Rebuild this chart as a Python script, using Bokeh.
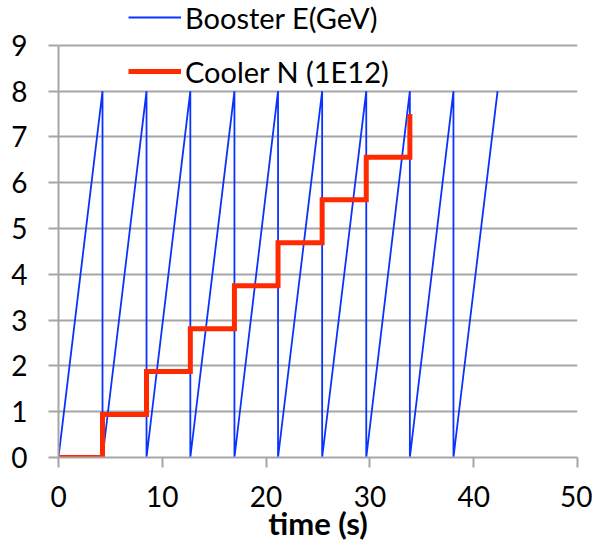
from bokeh.plotting import figure
from bokeh.models import Range1d, FixedTicker, Legend, LegendItem
from bokeh.embed import file_html
from bokeh.resources import INLINE

# data
booster_t = [0, 4.24, 4.24, 8.48, 8.48, 12.7, 12.7, 16.95, 16.95, 21.15, 21.15,
             25.4, 25.4, 29.65, 29.65, 33.85, 33.85, 38.05, 38.05, 42.3]
booster_e = [0, 8, 0, 8, 0, 8, 0, 8, 0, 8, 0, 8, 0, 8, 0, 8, 0, 8, 0, 8]
cooler_t = [0, 4.24, 4.24, 8.48, 8.48, 12.7, 12.7, 16.95, 16.95, 21.15, 21.15,
            25.4, 25.4, 29.65, 29.65, 33.85, 33.85]
cooler_n = [0, 0, 0.94, 0.94, 1.88, 1.88, 2.81, 2.81, 3.75, 3.75, 4.69, 4.69,
            5.63, 5.63, 6.56, 6.56, 7.5]
x_ticks = [0, 10, 20, 30, 40, 50]
y_ticks = [0, 1, 2, 3, 4, 5, 6, 7, 8, 9]
x_label = "time (s)"
booster_label = "Booster E(GeV)"
cooler_label = "Cooler N (1E12)"

FONT = "Lato"
GRID = "#A6A6A6"

# layout: plot area spans y pixels 0..458; the value axis (0..9) occupies 45..458,
# the space above 9 holds the legend (as in the original).
FRAME_H = 458
AXIS_H = 413
y_top = y_ticks[-1] * FRAME_H / AXIS_H

p = figure(width=592, height=544, output_backend="svg", toolbar_location=None,
           x_range=Range1d(x_ticks[0], x_ticks[-1]), y_range=Range1d(y_ticks[0], y_top),
           min_border_left=58, min_border_right=15, min_border_top=0,
           min_border_bottom=86)
p.outline_line_color = None
p.background_fill_color = "white"
p.border_fill_color = "white"

r1 = p.line(booster_t, booster_e, line_color="#0A32FF", line_width=1.8)
r2 = p.line(cooler_t, cooler_n, line_color="#FF2A00", line_width=5, line_join="miter")

p.xaxis.ticker = FixedTicker(ticks=x_ticks)
p.yaxis.ticker = FixedTicker(ticks=y_ticks)
p.yaxis.bounds = (y_ticks[0], y_ticks[-1])
p.xgrid.visible = False
p.ygrid.grid_line_color = GRID
p.ygrid.grid_line_width = 2

for ax in (p.xaxis, p.yaxis):
    ax.axis_line_color = GRID
    ax.axis_line_width = 2
    ax.major_tick_line_color = GRID
    ax.major_tick_line_width = 2
    ax.major_tick_out = 10
    ax.major_tick_in = 0
    ax.minor_tick_line_color = None
    ax.major_label_text_font = FONT
    ax.major_label_text_font_size = "28px"
    ax.major_label_text_color = "black"

p.yaxis.major_label_standoff = 21
p.xaxis.major_label_standoff = 18
p.xaxis.axis_label = x_label
p.xaxis.axis_label_text_font = FONT
p.xaxis.axis_label_text_font_style = "bold"
p.xaxis.axis_label_text_font_size = "31px"
p.xaxis.axis_label_text_color = "black"
p.xaxis.axis_label_standoff = -6

legend = Legend(items=[LegendItem(label=booster_label, renderers=[r1]),
                       LegendItem(label=cooler_label, renderers=[r2])],
                location=(70, 368), orientation="vertical",
                glyph_width=53, glyph_height=36, label_height=36,
                label_standoff=4, spacing=18, padding=0, margin=0,
                label_text_font=FONT, label_text_font_size="29px",
                label_text_color="black",
                background_fill_alpha=0, border_line_color=None)
p.add_layout(legend, "center")

open("out.html", "w").write(file_html(p, INLINE))
